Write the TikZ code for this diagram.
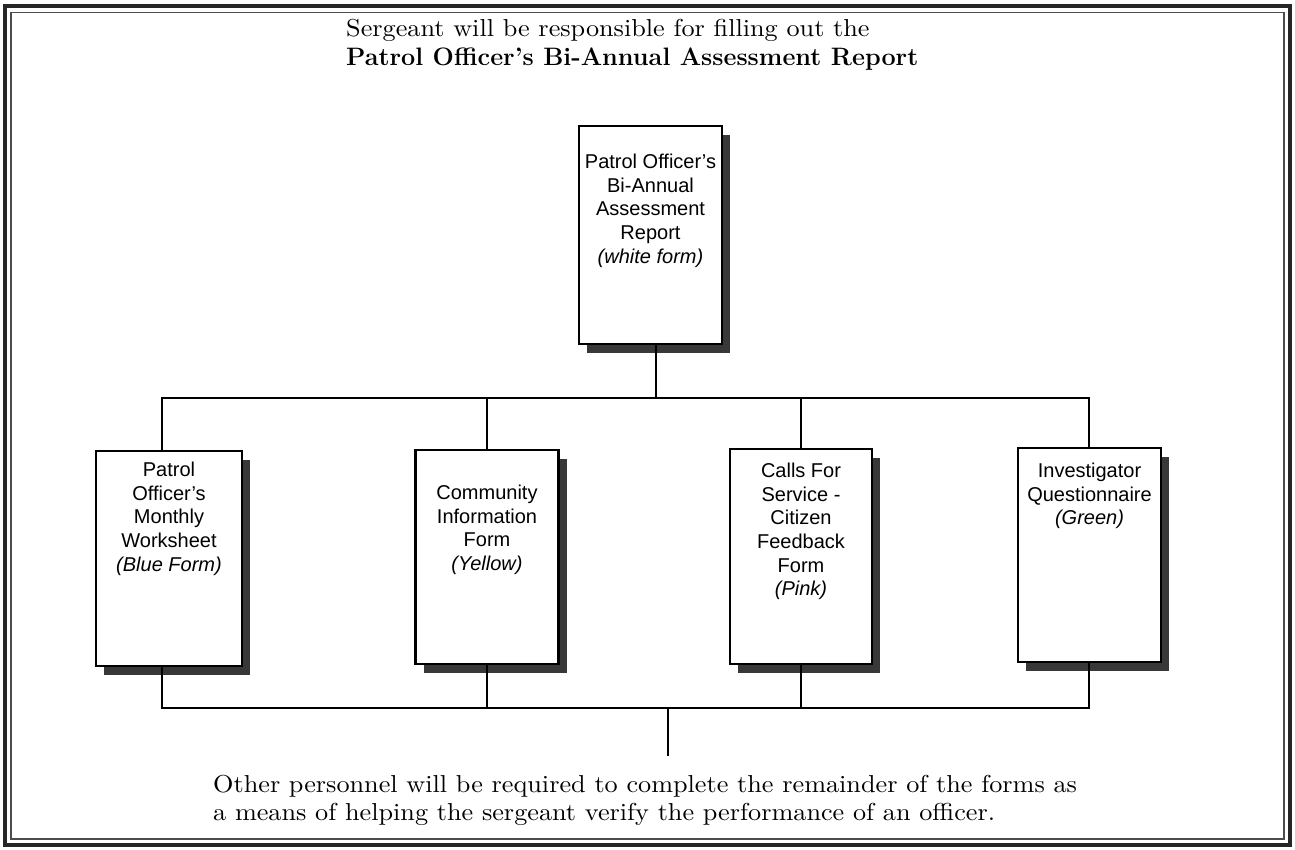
\documentclass[tikz,border=0pt]{standalone}
\usepackage{fontspec}
\setsansfont{Liberation Sans}
\newfontfamily\palfont{lmroman10-regular.otf}[FakeStretch=1.07]
\usetikzlibrary{shadows}
\begin{document}
\begin{tikzpicture}[x=1pt,y=-1pt,
  form/.style={draw=black, line width=2.2pt, fill=white, inner sep=0pt,
    general shadow={fill=black!78, shadow xshift=8pt, shadow yshift=-9pt},
    font=\sffamily\fontsize{20}{23.7}\selectfont},
  conn/.style={line width=1.6pt, line cap=rect},
  note/.style={anchor=base west, inner sep=0pt, font=\palfont\fontsize{24.5}{30}\selectfont},
  notebold/.style={anchor=base west, inner sep=0pt, font=\bfseries\fontsize{25.2}{30}\selectfont}]
\useasboundingbox (0,0) rectangle (1295,850);
\fill[white] (0,0) rectangle (1295,850);
% frame
\draw[line width=4.5pt, black!85] (5,6) rectangle (1290,845);
\draw[line width=1.5pt, black!70] (11,12.5) rectangle (1284,839);
% title
\node[note] (title1) at (346,37) {Sergeant will be responsible for filling out the};
\node[notebold] (title2) at (346,66) {Patrol Officer's Bi-Annual Assessment Report};
% boxes
\node[form] (top) at (650.5,235) {\parbox[c][218pt][t]{143pt}{\centering\vspace*{28pt}Patrol Officer's\\Bi-Annual\\Assessment\\Report\\\textit{(white form)}}};
\node[form] (b1) at (169,558.5) {\parbox[c][215pt][t]{146pt}{\centering\vspace*{11pt}Patrol\\Officer's\\Monthly\\Worksheet\\\textit{(Blue Form)}}};
\node[form] (b2) at (487,557) {\parbox[c][214pt][t]{143pt}{\centering\vspace*{35pt}Community\\Information\\Form\\\textit{(Yellow)}}};
\node[form] (b3) at (801,556.5) {\parbox[c][215pt][t]{142pt}{\centering\vspace*{14pt}Calls For\\Service -\\Citizen\\Feedback\\Form\\\textit{(Pink)}}};
\node[form] (b4) at (1089.5,555) {\parbox[c][214pt][t]{143pt}{\centering\vspace*{15pt}Investigator\\Questionnaire\\\textit{(Green)}}};
% junctions
\coordinate (tj) at (656,398);
\coordinate (tl) at (162,398);
\coordinate (tr) at (1089,398);
\coordinate (bj) at (668,708);
\coordinate (bl) at (162,708);
\coordinate (br) at (1089,708);
\coordinate (bend) at (668,755);
\draw[conn] (top.south -| tj) -- (tj);
\draw[conn] (b1.north -| tl) -- (tl) -- (tr) -- (b4.north -| tr);
\draw[conn] (b2.north) -- (b2.north |- tl);
\draw[conn] (b3.north) -- (b3.north |- tl);
\draw[conn] (b1.south -| bl) -- (bl) -- (br) -- (b4.south -| br);
\draw[conn] (b2.south) -- (b2.south |- bl);
\draw[conn] (b3.south) -- (b3.south |- bl);
\draw[conn] (bj) -- (bend);
% bottom note
\node[note] (foot1) at (213,792) {Other personnel will be required to complete the remainder of the forms as};
\node[note] (foot2) at (213,820) {a means of helping the sergeant verify the performance of an officer.};
\end{tikzpicture}
\end{document}
